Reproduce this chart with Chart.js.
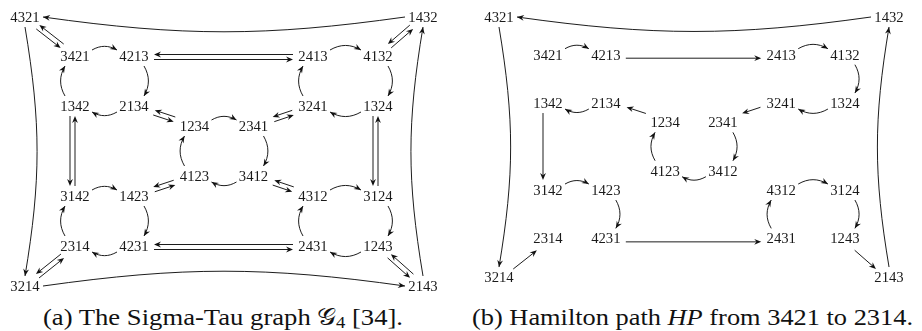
<!DOCTYPE html>
<html><head><meta charset="utf-8">
<script src="https://cdn.jsdelivr.net/npm/chart.js@4.4.1/dist/chart.umd.min.js"></script>
<style>
html,body{margin:0;padding:0;background:#fff;}
body{width:922px;height:331px;position:relative;overflow:hidden;}
canvas{position:absolute;top:0;}
#cA{left:0;} #cB{left:460px;}
.cap{position:absolute;top:306px;font-family:'Liberation Serif';font-size:23px;line-height:23px;white-space:nowrap;color:#111;transform-origin:0 0;}
.cap sub{font-size:0.7em;vertical-align:-0.2em;line-height:0}
.script{font-family:'DejaVu Sans';}
</style></head><body>
<canvas id="cA" width="460" height="300"></canvas>
<canvas id="cB" width="462" height="300"></canvas>
<div class="cap" id="capA">(a) The Sigma-Tau graph <span class="script">𝒢</span><sub>4</sub> [34].</div>
<div class="cap" id="capB">(b) Hamilton path <i>HP</i> from 3421 to 2314.</div>
<script>
// ---- data: permutations (nodes) and their layout coordinates ----
const nodeNames = ['4321','1432','3421','4213','2413','4132','1342','2134','3241','1324','1234','2341',
                   '4123','3412','3142','1423','4312','3124','2314','4231','2431','1243','3214','2143'];
const nodeX = [0, 7.96, 1.0, 2.18, 5.76, 7.06, 1.0, 2.18, 5.76, 7.06, 3.39, 4.57,
               3.39, 4.57, 1.0, 2.18, 5.76, 7.06, 1.0, 2.18, 5.76, 7.06, 0, 7.96];
const nodeY = [0, 0, 0.78, 0.78, 0.78, 0.78, 1.78, 1.78, 1.78, 1.78, 2.18, 2.18,
               3.18, 3.18, 3.58, 3.58, 3.58, 3.58, 4.58, 4.58, 4.58, 4.58, 5.38, 5.38];
// sigma edges: directed 4-cycles
const sigmaCycles = [
  ['3421','4213','2134','1342'],
  ['2413','4132','1324','3241'],
  ['1234','2341','3412','4123'],
  ['3142','1423','4231','2314'],
  ['4312','3124','1243','2431']
];
const outerCycle = ['4321','3214','2143','1432'];
// tau edges: undirected pairs (drawn as two opposite arrows)
const tauPairs = [['4321','3421'],['1432','4132'],['3214','2314'],['2143','1243'],
                  ['2134','1234'],['2341','3241'],['4123','1423'],['3412','4312'],
                  ['4213','2413'],['1342','3142'],['1324','3124'],['4231','2431']];
// Hamilton path from 3421 to 2314
const hamiltonPath = ['3421','4213','2413','4132','1324','3241','2341','3412','4123','1234','2134','1342',
                      '3142','1423','4231','2431','4312','3124','1243','2143','1432','4321','3214','2314'];

// ---- drawing helpers ----
const INK = '#111';
const LABEL_FONT = '14.7px "Liberation Serif"';
function pos(chart, name){
  const i = nodeNames.indexOf(name);
  return {x: chart.scales.x.getPixelForValue(nodeX[i]), y: chart.scales.y.getPixelForValue(nodeY[i])};
}
function arrowHead(ctx, tip, ux, uy){
  const L = 7, W = 2.9, inset = 2.3;
  const nx = -uy, ny = ux;
  const bx = tip.x - ux*L, by = tip.y - uy*L;
  ctx.beginPath();
  ctx.moveTo(tip.x, tip.y);
  ctx.lineTo(bx + nx*W, by + ny*W);
  ctx.lineTo(tip.x - ux*(L-inset), tip.y - uy*(L-inset));
  ctx.lineTo(bx - nx*W, by - ny*W);
  ctx.closePath();
  ctx.fill();
}
function isSigma(a, b){
  for (const c of sigmaCycles){
    const i = c.indexOf(a);
    if (i >= 0 && c[(i+1)%4] === b) return 'inner';
  }
  const i = outerCycle.indexOf(a);
  if (i >= 0 && outerCycle[(i+1)%4] === b) return 'outer';
  return null;
}
function arcEdge(ctx, A, B, kind){
  const dx = B.x-A.x, dy = B.y-A.y, d = Math.hypot(dx,dy);
  const ux = dx/d, uy = dy/d, nx = uy, ny = -ux; // n = visual left
  const horiz = Math.abs(dx) > Math.abs(dy);
  let a, b, bend;
  if (kind === 'outer'){ a = horiz ? 18 : 10; b = 0; bend = horiz ? 8 : 9.5; }
  else { a = horiz ? 17 : 10; b = horiz ? 6 : 10; bend = 30; }
  const S = {x: A.x + a*ux + b*nx, y: A.y + a*uy + b*ny};
  const E = {x: B.x - a*ux + b*nx, y: B.y - a*uy + b*ny};
  const ex = E.x-S.x, ey = E.y-S.y, L = Math.hypot(ex,ey);
  const vx = ex/L, vy = ey/L, mx = vy, my = -vx;
  const th = bend*Math.PI/180, c = 0.3915*L, co = Math.cos(th), si = Math.sin(th);
  const P1 = {x: S.x + c*(co*vx + si*mx), y: S.y + c*(co*vy + si*my)};
  const P2 = {x: E.x + c*(-co*vx + si*mx), y: E.y + c*(-co*vy + si*my)};
  ctx.beginPath();
  ctx.moveTo(S.x, S.y);
  ctx.bezierCurveTo(P1.x, P1.y, P2.x, P2.y, E.x, E.y);
  ctx.stroke();
  const tx = E.x - P2.x, ty = E.y - P2.y, tl = Math.hypot(tx,ty);
  arrowHead(ctx, E, tx/tl, ty/tl);
}
function clipT(dx, dy, hw, hh){
  const tx = dx !== 0 ? hw/Math.abs(dx) : Infinity;
  const ty = dy !== 0 ? hh/Math.abs(dy) : Infinity;
  return Math.min(tx, ty);
}
function tauEdge(ctx, A, B){
  const dx = B.x-A.x, dy = B.y-A.y, d = Math.hypot(dx,dy);
  const ux = dx/d, uy = dy/d, rx = -uy, ry = ux; // r = visual right
  const t = clipT(dx, dy, 20, 10);
  let sx = 0, sy = 0;
  if (Math.abs(dx) < 1) sx = -2.5;
  if (Math.abs(dy) < 1) sy = 1;
  const off = 2.5;
  const S = {x: A.x + dx*t + rx*off + sx, y: A.y + dy*t + ry*off + sy};
  const E = {x: B.x - dx*t + rx*off + sx, y: B.y - dy*t + ry*off + sy};
  ctx.beginPath();
  ctx.moveTo(S.x, S.y);
  ctx.lineTo(E.x - ux*3, E.y - uy*3);
  ctx.stroke();
  arrowHead(ctx, E, ux, uy);
}
function drawLabels(chart){
  const ctx = chart.ctx;
  ctx.fillStyle = '#1a1a1a';
  ctx.font = LABEL_FONT;
  ctx.textAlign = 'center';
  ctx.textBaseline = 'alphabetic';
  for (const n of nodeNames){
    const p = pos(chart, n);
    ctx.fillText(n, p.x, p.y + 4.9);
  }
}
const graphPlugin = {
  id: 'graph',
  afterDatasetsDraw(chart, args, opts){
    const ctx = chart.ctx;
    ctx.save();
    ctx.strokeStyle = INK; ctx.fillStyle = INK; ctx.lineWidth = 0.95; ctx.lineCap = 'butt';
    if (opts.mode === 'full'){
      for (const c of sigmaCycles)
        for (let i = 0; i < 4; i++) arcEdge(ctx, pos(chart, c[i]), pos(chart, c[(i+1)%4]), 'inner');
      for (let i = 0; i < 4; i++) arcEdge(ctx, pos(chart, outerCycle[i]), pos(chart, outerCycle[(i+1)%4]), 'outer');
      for (const [a, b] of tauPairs){
        tauEdge(ctx, pos(chart, a), pos(chart, b));
        tauEdge(ctx, pos(chart, b), pos(chart, a));
      }
    } else {
      for (let i = 0; i + 1 < hamiltonPath.length; i++){
        const a = hamiltonPath[i], b = hamiltonPath[i+1];
        const k = isSigma(a, b);
        if (k) arcEdge(ctx, pos(chart, a), pos(chart, b), k);
        else tauEdge(ctx, pos(chart, a), pos(chart, b));
      }
    }
    drawLabels(chart);
    ctx.restore();
  }
};
function makeChart(id, mode, xr, yr){
  return new Chart(document.getElementById(id), {
    type: 'scatter',
    data: { datasets: [{ data: nodeNames.map((n, i) => ({x: nodeX[i], y: nodeY[i]})), pointRadius: 0, pointHoverRadius: 0 }] },
    options: {
      responsive: false, animation: false, events: [],
      layout: { padding: 0 },
      scales: {
        x: { type: 'linear', display: false, min: xr[0], max: xr[1] },
        y: { type: 'linear', display: false, min: yr[0], max: yr[1], reverse: true }
      },
      plugins: { legend: { display: false }, tooltip: { enabled: false }, graph: { mode } }
    },
    plugins: [graphPlugin]
  });
}
function fitCaption(id, left, right){
  const el = document.getElementById(id);
  el.style.transform = 'none';
  el.style.left = left + 'px';
  const w = el.getBoundingClientRect().width;
  el.style.transform = 'scaleX(' + ((right - left) / w) + ')';
}
makeChart('cA', 'full', [-0.5, 8.7], [-0.34, 5.66]);
makeChart('cB', 'path', [-0.796, 8.633], [-0.3517, 5.855]);
fitCaption('capA', 43, 403); fitCaption('capB', 472, 913);
</script>
</body></html>
